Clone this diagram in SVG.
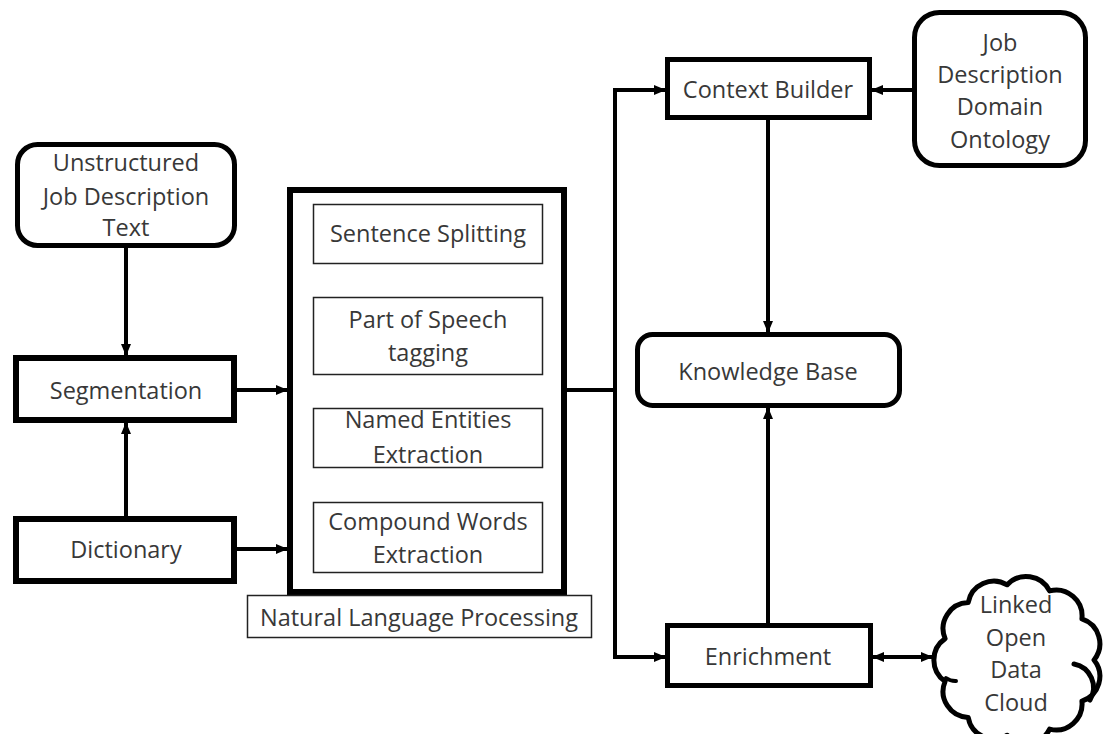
<svg xmlns="http://www.w3.org/2000/svg" width="1109" height="734" viewBox="0 0 1109 734">
  <defs>
    <marker id="arrow" markerUnits="userSpaceOnUse" markerWidth="12" markerHeight="10" refX="12" refY="5" orient="auto">
      <path d="M0,0 L12,5 L0,10 z" fill="#000"/>
    </marker>
    <marker id="arrow-start" markerUnits="userSpaceOnUse" markerWidth="12" markerHeight="10" refX="0" refY="5" orient="auto">
      <path d="M12,0 L0,5 L12,10 z" fill="#000"/>
    </marker>
    <style>
      .box { fill: #fff; stroke: #000; stroke-width: 5; }
      .thick { fill: #fff; stroke: #000; stroke-width: 6; }
      .thin { fill: #fff; stroke: #222; stroke-width: 1.5; }
      .label { font-family: "Open Sans", "Noto Sans", "Liberation Sans", sans-serif; font-size: 23.5px; fill: #383838; text-anchor: middle; }
      .wire { fill: none; stroke: #000; stroke-width: 4; }
      .arrow { marker-end: url(#arrow); }
    </style>
  </defs>

  <rect width="1109" height="734" fill="#fff"/>

  <!-- connectors -->
  <g id="connectors">
    <line class="wire arrow" x1="126" y1="247" x2="126" y2="356"/>
    <line class="wire arrow" x1="126" y1="517" x2="126" y2="422"/>
    <line class="wire arrow" x1="236" y1="390" x2="288" y2="390"/>
    <line class="wire arrow" x1="236" y1="549" x2="288" y2="549"/>
    <polyline class="wire" points="566,390 615,390"/>
    <polyline class="wire arrow" points="615,390 615,90 666,90"/>
    <polyline class="wire arrow" points="615,388 615,657 666,657"/>
    <line class="wire arrow" x1="913" y1="90" x2="871" y2="90"/>
    <line class="wire arrow" x1="768" y1="119" x2="768" y2="333"/>
    <line class="wire arrow" x1="768" y1="624" x2="768" y2="407"/>
    <line class="wire arrow" x1="872" y1="657" x2="933" y2="657" marker-start="url(#arrow-start)"/>
  </g>

  <g id="unstructured-text">
    <rect class="box" x="17.5" y="144.5" width="217" height="101" rx="20"/>
    <text class="label" x="126" y="171">Unstructured</text>
    <text class="label" x="126" y="205">Job Description</text>
    <text class="label" x="126" y="236">Text</text>
  </g>

  <g id="segmentation">
    <rect class="thick" x="16" y="358" width="218" height="62"/>
    <text class="label" x="126" y="399">Segmentation</text>
  </g>

  <g id="dictionary">
    <rect class="thick" x="16" y="519" width="218" height="62"/>
    <text class="label" x="126" y="558">Dictionary</text>
  </g>

  <g id="nlp">
    <rect class="thick" x="290" y="190" width="274" height="402"/>
    <rect class="thin" x="313.5" y="204.5" width="229" height="59"/>
    <text class="label" x="428" y="242">Sentence Splitting</text>
    <rect class="thin" x="313.5" y="297.5" width="229" height="77"/>
    <text class="label" x="428" y="328">Part of Speech</text>
    <text class="label" x="428" y="361">tagging</text>
    <rect class="thin" x="313.5" y="408.5" width="229" height="59"/>
    <text class="label" x="428" y="428">Named Entities</text>
    <text class="label" x="428" y="463">Extraction</text>
    <rect class="thin" x="313.5" y="502.5" width="229" height="70"/>
    <text class="label" x="428" y="530">Compound Words</text>
    <text class="label" x="428" y="563">Extraction</text>
  </g>

  <g id="nlp-label">
    <rect class="thin" x="247.5" y="595.5" width="344" height="42"/>
    <text class="label" x="419" y="626">Natural Language Processing</text>
  </g>

  <g id="context-builder">
    <rect class="box" x="667.5" y="59.5" width="202" height="58"/>
    <text class="label" x="768" y="98">Context Builder</text>
  </g>

  <g id="domain-ontology">
    <rect class="box" x="914.5" y="12.5" width="171" height="153" rx="25"/>
    <text class="label" x="1000" y="51">Job</text>
    <text class="label" x="1000" y="83">Description</text>
    <text class="label" x="1000" y="115">Domain</text>
    <text class="label" x="1000" y="148">Ontology</text>
  </g>

  <g id="knowledge-base">
    <rect class="box" x="637.5" y="334.5" width="262" height="71" rx="15"/>
    <text class="label" x="768" y="380">Knowledge Base</text>
  </g>

  <g id="enrichment">
    <rect class="box" x="667.5" y="625.5" width="203" height="60"/>
    <text class="label" x="768" y="665">Enrichment</text>
  </g>

  <g id="linked-open-data-cloud">
    <!-- eleven bumps around a circle centred at (1018,660) -->
    <path fill="#fff" stroke="#000" stroke-width="5" stroke-linejoin="round"
      d="M945.1,638.6 A26,26 0 0 1 968.2,602.6 A26,26 0 0 1 1007.2,584.8 A26,26 0 0 1 1049.6,590.9 A26,26 0 0 1 1081.9,618.9 A26,26 0 0 1 1094,660 A26,26 0 0 1 1081.9,701.1 A26,26 0 0 1 1049.6,729.1 A26,26 0 0 1 1007.2,735.2 A26,26 0 0 1 968.2,717.4 A26,26 0 0 1 945.1,681.4 A26,26 0 0 1 945.1,638.6 Z"/>
    <path fill="none" stroke="#000" stroke-width="5" stroke-linecap="round" d="M1074,664 A24,24 0 0 1 1090,700"/>
    <path fill="none" stroke="#000" stroke-width="4" stroke-linecap="round" d="M946,678 A16,16 0 0 0 956,681"/>
    <text class="label" x="1016" y="613">Linked</text>
    <text class="label" x="1016" y="646">Open</text>
    <text class="label" x="1016" y="678">Data</text>
    <text class="label" x="1016" y="711">Cloud</text>
  </g>
</svg>
